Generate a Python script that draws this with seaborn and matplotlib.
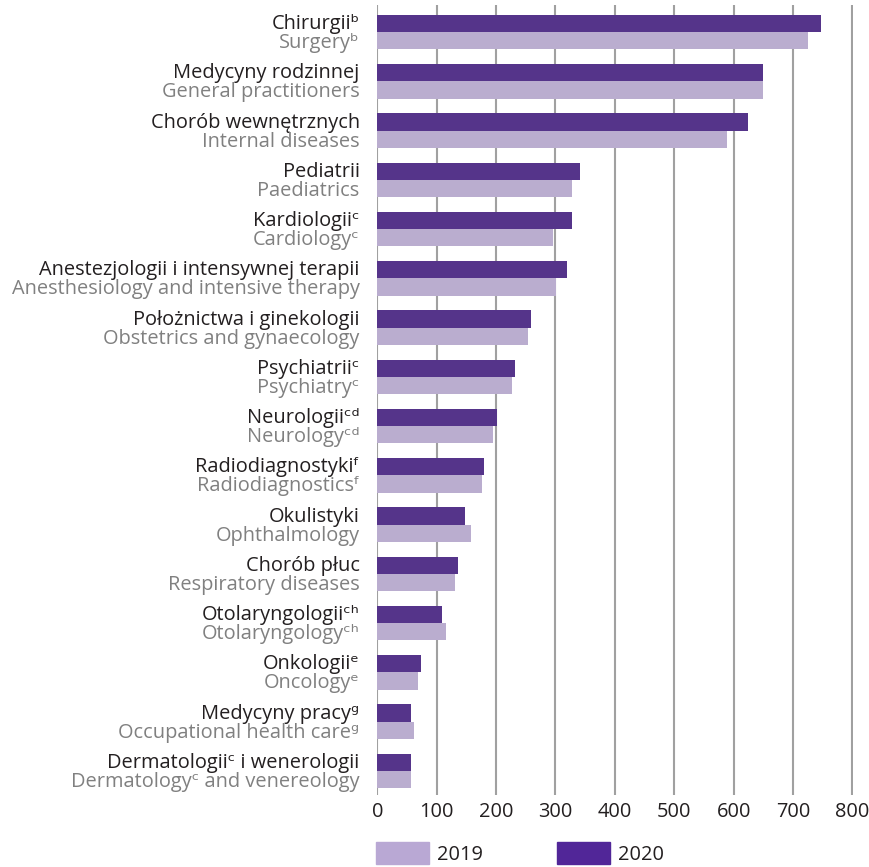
import matplotlib
matplotlib.use("Agg")
import matplotlib.pyplot as plt
import matplotlib.patches as mpatches
import seaborn as sns
import pandas as pd

# Specialisation labels (Polish / English) with footnote markers
labels_pl = [
    "Chirurgiiᵇ",
    "Medycyny rodzinnej",
    "Chorób wewnętrznych",
    "Pediatrii",
    "Kardiologiiᶜ",
    "Anestezjologii i intensywnej terapii",
    "Położnictwa i ginekologii",
    "Psychiatriiᶜ",
    "Neurologiiᶜᵈ",
    "Radiodiagnostykiᶠ",
    "Okulistyki",
    "Chorób płuc",
    "Otolaryngologiiᶜʰ",
    "Onkologiiᵉ",
    "Medycyny pracyᵍ",
    "Dermatologiiᶜ i wenerologii",
]
labels_en = [
    "Surgeryᵇ",
    "General practitioners",
    "Internal diseases",
    "Paediatrics",
    "Cardiologyᶜ",
    "Anesthesiology and intensive therapy",
    "Obstetrics and gynaecology",
    "Psychiatryᶜ",
    "Neurologyᶜᵈ",
    "Radiodiagnosticsᶠ",
    "Ophthalmology",
    "Respiratory diseases",
    "Otolaryngologyᶜʰ",
    "Oncologyᵉ",
    "Occupational health careᵍ",
    "Dermatologyᶜ and venereology",
]
values_2019 = [725, 650, 589, 327, 295, 301, 253, 227, 195, 177, 158, 130, 115, 69, 62, 56]
values_2020 = [747, 650, 624, 342, 328, 320, 258, 232, 202, 180, 147, 135, 109, 74, 56, 56]
years = ["2019", "2020"]
x_ticks = [0, 100, 200, 300, 400, 500, 600, 700, 800]

colors = {"2019": "#b9a8d4", "2020": "#512698"}
dark_text = "#231f20"
grey_text = "#808080"
fs = 14.4

sns.set_theme(style="white")
plt.rcParams["font.family"] = ["Open Sans", "DejaVu Sans"]

keys = [f"k{i}" for i in range(len(labels_pl))]
df = pd.DataFrame({
    "key": keys * 2,
    "year": ["2019"] * len(keys) + ["2020"] * len(keys),
    "value": values_2019 + values_2020,
})

fig = plt.figure(figsize=(8.7, 8.67), dpi=100)
ax = fig.add_axes([377 / 870, 1 - 795 / 867, (853 - 377) / 870, (795 - 5) / 867])

sns.barplot(data=df, y="key", x="value", hue="year", hue_order=["2020", "2019"],
            order=keys, palette=colors, orient="h", width=0.7, linewidth=0,
            legend=False, ax=ax)

ax.set_xlim(-0.6, 801)
ax.set_ylim(15.49, -0.55)
ax.set_xticks(x_ticks)
ax.set_xticklabels([str(t) for t in x_ticks], fontsize=fs, color=dark_text)
ax.set_yticks([])
ax.set_xlabel("")
ax.set_ylabel("")
ax.tick_params(axis="x", length=0, pad=5)
for s in ax.spines.values():
    s.set_visible(False)
ax.xaxis.grid(True, color="#a0a0a0", linewidth=1.5)
ax.set_axisbelow(True)

# Two-line category labels: Polish (dark) beside the 2020 bar, English (grey) beside 2019
for i, (pl, en) in enumerate(zip(labels_pl, labels_en)):
    ax.annotate(pl, xy=(0, i - 0.061), xycoords=("axes fraction", "data"),
                xytext=(-12.5, 0), textcoords="offset points",
                ha="right", va="baseline", fontsize=fs, color=dark_text)
    ax.annotate(en, xy=(0, i + 0.325), xycoords=("axes fraction", "data"),
                xytext=(-12.5, 0), textcoords="offset points",
                ha="right", va="baseline", fontsize=fs, color=grey_text)

handles = [mpatches.Patch(color=colors[y], label=y) for y in years]
fig.legend(handles=handles, loc="upper left",
           bbox_to_anchor=(376 / 870, 1 - 842 / 867), ncol=2, frameon=False,
           fontsize=fs, handlelength=2.65, handleheight=1.35,
           handletextpad=0.4, columnspacing=3.7, borderpad=0, borderaxespad=0,
           labelcolor=dark_text)

fig.savefig("out.png", dpi=100)
